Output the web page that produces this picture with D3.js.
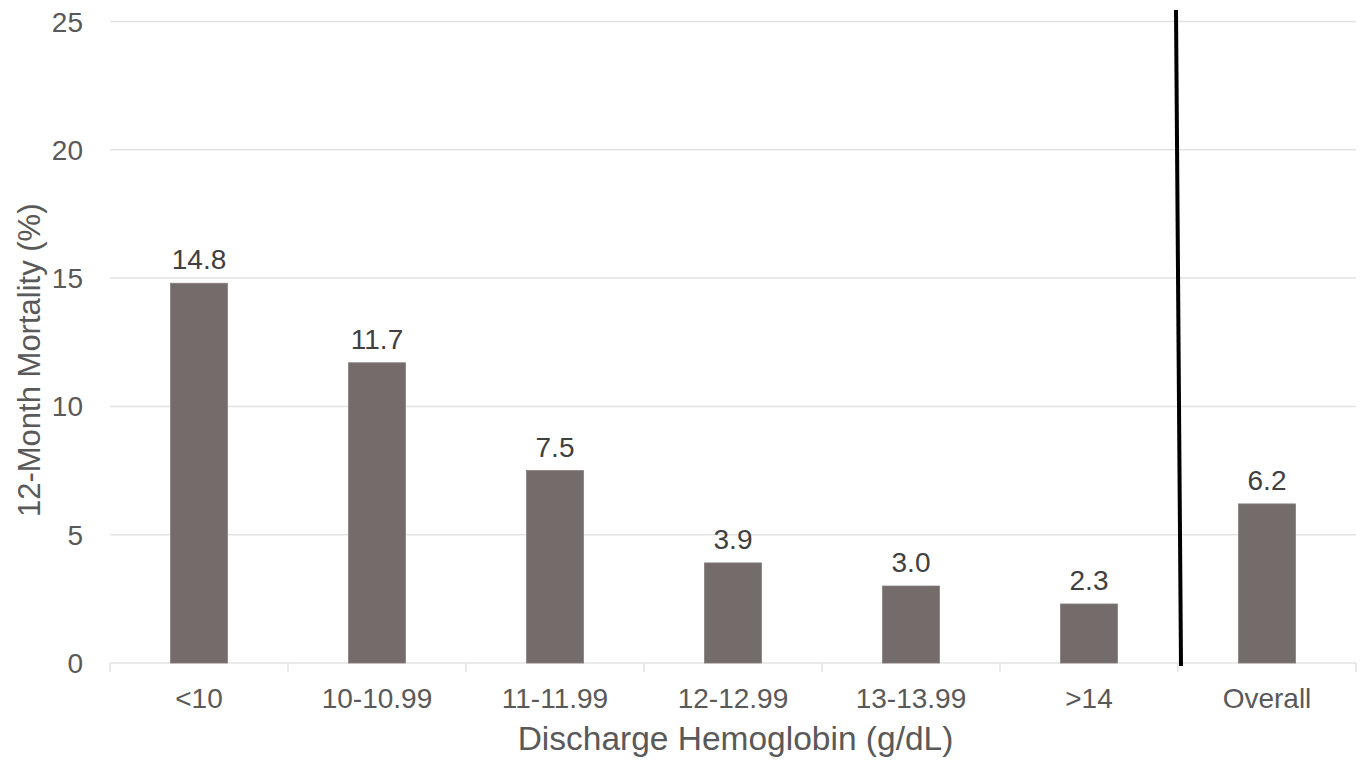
<!DOCTYPE html>
<html>
<head>
<meta charset="utf-8">
<script src="https://cdn.jsdelivr.net/npm/d3@7"></script>
<style>
  html, body { margin: 0; padding: 0; background: #ffffff; }
  svg { display: block; font-family: "Liberation Sans", Arial, sans-serif; }
</style>
</head>
<body>
<svg id="chart" width="1363" height="764"></svg>
<script>
// Discharge hemoglobin groups and 12-month mortality (%)
const categories = ["<10", "10-10.99", "11-11.99", "12-12.99", "13-13.99", ">14", "Overall"];
const mortality = [14.8, 11.7, 7.5, 3.9, 3.0, 2.3, 6.2];
const yTicks = [0, 5, 10, 15, 20, 25];
const yTitle = "12-Month Mortality (%)";
const xTitle = "Discharge Hemoglobin (g/dL)";

const svg = d3.select("#chart");
const W = 1363, H = 764;
const margin = { top: 21.5, right: 7, bottom: 101, left: 110 };
const textColor = "#595959";
const gridColor = "#e3e3e3";
const barColor = "#746c6b";

const x = d3.scaleBand()
  .domain(categories)
  .range([margin.left, W - margin.right])
  .paddingInner(0.68)
  .paddingOuter(0.34);

const y = d3.scaleLinear()
  .domain([0, 25])
  .range([H - margin.bottom, margin.top]);

// horizontal gridlines
svg.append("g")
  .selectAll("line")
  .data(yTicks)
  .join("line")
  .attr("x1", margin.left)
  .attr("x2", W - margin.right)
  .attr("y1", d => y(d))
  .attr("y2", d => y(d))
  .attr("stroke", gridColor)
  .attr("stroke-width", 1.5);

// y-axis labels
svg.append("g")
  .selectAll("text")
  .data(yTicks)
  .join("text")
  .attr("x", 83)
  .attr("y", d => y(d))
  .attr("dy", "0.36em")
  .attr("text-anchor", "end")
  .attr("fill", textColor)
  .attr("font-size", 28)
  .text(d => d);

// x axis: category ticks at band boundaries
const step = x.step();
const boundaries = d3.range(categories.length + 1).map(i => margin.left + i * step);
svg.append("g")
  .selectAll("line")
  .data(boundaries)
  .join("line")
  .attr("x1", d => d)
  .attr("x2", d => d)
  .attr("y1", y(0))
  .attr("y2", y(0) + 9)
  .attr("stroke", gridColor)
  .attr("stroke-width", 1.5);

svg.append("g")
  .selectAll("text")
  .data(categories)
  .join("text")
  .attr("x", d => x(d) + x.bandwidth() / 2)
  .attr("y", 708)
  .attr("text-anchor", "middle")
  .attr("fill", textColor)
  .attr("font-size", 28)
  .text(d => d);

// bars
svg.append("g")
  .selectAll("rect")
  .data(mortality)
  .join("rect")
  .attr("x", (d, i) => x(categories[i]))
  .attr("width", x.bandwidth())
  .attr("y", d => y(d))
  .attr("height", d => y(0) - y(d))
  .attr("fill", barColor)
  .attr("stroke", "#847d7c")
  .attr("stroke-width", 0.8);

// value labels
svg.append("g")
  .selectAll("text")
  .data(mortality)
  .join("text")
  .attr("x", (d, i) => x(categories[i]) + x.bandwidth() / 2)
  .attr("y", d => y(d) - 14)
  .attr("text-anchor", "middle")
  .attr("fill", "#404040")
  .attr("font-size", 28)
  .text(d => d.toFixed(1));

// separator between the hemoglobin groups and the overall bar
const sepX = x(categories[categories.length - 1]) - x.paddingInner() * step / 2;
svg.append("line")
  .attr("x1", sepX - 2)
  .attr("y1", margin.top - 11.5)
  .attr("x2", sepX + 3)
  .attr("y2", y(0) + 3)
  .attr("stroke", "#000000")
  .attr("stroke-width", 4);

// axis titles
svg.append("text")
  .attr("transform", `translate(40, ${(y(0) + y(25)) / 2 + 18}) rotate(-90)`)
  .attr("text-anchor", "middle")
  .attr("fill", textColor)
  .attr("font-size", 31)
  .text(yTitle);

svg.append("text")
  .attr("x", 735.5)
  .attr("y", 750)
  .attr("text-anchor", "middle")
  .attr("fill", textColor)
  .attr("font-size", 33.5)
  .text(xTitle);
</script>
</body>
</html>
